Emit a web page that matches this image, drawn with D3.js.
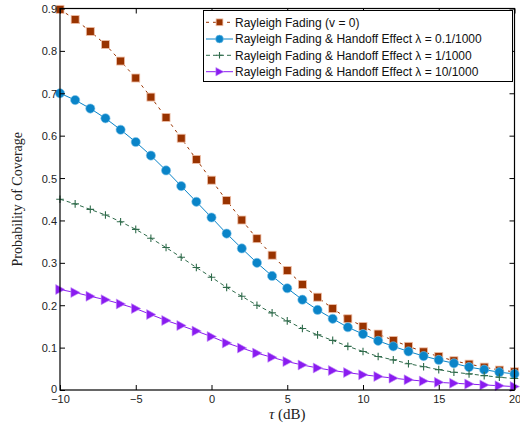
<!DOCTYPE html>
<html>
<head>
<meta charset="utf-8">
<script src="https://cdn.jsdelivr.net/npm/d3@7/dist/d3.min.js"></script>
<style>
html,body{margin:0;padding:0;background:#fff;}
svg{display:block;}
</style>
</head>
<body>
<svg id="chart" width="520" height="425"></svg>
<script>
const tau = [-10,-9,-8,-7,-6,-5,-4,-3,-2,-1,0,1,2,3,4,5,6,7,8,9,10,11,12,13,14,15,16,17,18,19,20];
const rayleigh = [0.898,0.874,0.846,0.815,0.776,0.736,0.691,0.643,0.594,0.544,0.495,0.447,0.401,0.357,0.318,0.282,0.249,0.219,0.192,0.168,0.150,0.132,0.117,0.103,0.090,0.079,0.069,0.061,0.054,0.047,0.043];
const handoff01 = [0.700,0.684,0.664,0.641,0.614,0.585,0.553,0.518,0.481,0.444,0.407,0.369,0.334,0.300,0.269,0.240,0.213,0.189,0.168,0.148,0.132,0.116,0.103,0.091,0.080,0.071,0.063,0.054,0.048,0.042,0.038];
const handoff1 = [0.450,0.439,0.426,0.413,0.397,0.379,0.358,0.336,0.313,0.289,0.266,0.242,0.221,0.200,0.182,0.163,0.145,0.130,0.117,0.103,0.091,0.079,0.071,0.062,0.055,0.048,0.042,0.038,0.034,0.030,0.027];
const handoff10 = [0.237,0.230,0.221,0.213,0.203,0.192,0.178,0.164,0.152,0.139,0.126,0.111,0.099,0.087,0.077,0.067,0.059,0.052,0.046,0.041,0.036,0.032,0.028,0.024,0.021,0.018,0.016,0.014,0.012,0.010,0.008];
const seriesNames = ["Rayleigh Fading (v = 0)","Rayleigh Fading & Handoff Effect λ = 0.1/1000","Rayleigh Fading & Handoff Effect λ = 1/1000","Rayleigh Fading & Handoff Effect λ = 10/1000"];
const xTicks = [-10,-5,0,5,10,15,20];
const yTicks = [0,0.1,0.2,0.3,0.4,0.5,0.6,0.7,0.8,0.9];

const series = [
  {name:seriesNames[0], values:rayleigh, color:"#993300", dash:"3,4", marker:"square", edge:"#f0c0a8"},
  {name:seriesNames[1], values:handoff01, color:"#0a84c8", dash:null, marker:"circle", edge:"#80c4ea"},
  {name:seriesNames[2], values:handoff1, color:"#2f6b4b", dash:"4,3", marker:"plus", edge:null},
  {name:seriesNames[3], values:handoff10, color:"#8a1cf0", dash:null, marker:"triangle", edge:"#c490f8"}
];

const svg = d3.select("#chart");
const L=60, R=514.5, T=8.5, B=390;
const x = d3.scaleLinear().domain([-10,20]).range([L,R]);
const y = d3.scaleLinear().domain([0,0.9]).range([B,T]);

function drawMarker(g, type, cx, cy, s, color, edge){
  if(type==="square"){
    g.append("rect").attr("x",cx-s*4).attr("y",cy-s*4).attr("width",s*8).attr("height",s*8)
     .attr("fill",color).attr("stroke",edge).attr("stroke-width",0.8);
  } else if(type==="circle"){
    g.append("circle").attr("cx",cx).attr("cy",cy).attr("r",s*4.6)
     .attr("fill",color).attr("stroke",edge).attr("stroke-width",0.6);
  } else if(type==="plus"){
    g.append("path").attr("d",`M${cx-s*3.8},${cy}H${cx+s*3.8}M${cx},${cy-s*3.8}V${cy+s*3.8}`)
     .attr("stroke",color).attr("stroke-width",1.1).attr("fill","none");
  } else if(type==="triangle"){
    g.append("path").attr("d",`M${cx-s*4.3},${cy-s*5}L${cx+s*5},${cy}L${cx-s*4.3},${cy+s*5}Z`)
     .attr("fill",color).attr("stroke",edge).attr("stroke-width",0.6);
  }
}

const line = d3.line().x((d,i)=>x(tau[i])).y(d=>y(d));
const plot = svg.append("g");
series.forEach(s=>{
  const p = plot.append("path").datum(s.values).attr("d",line)
    .attr("fill","none").attr("stroke",s.color).attr("stroke-width",1);
  if(s.dash) p.attr("stroke-dasharray",s.dash);
  const mg = plot.append("g");
  s.values.forEach((v,i)=>drawMarker(mg,s.marker,x(tau[i]),y(v),1,s.color,s.edge));
});

const axisG = svg.append("g");
axisG.append("rect").attr("x",L).attr("y",T).attr("width",R-L).attr("height",B-T)
  .attr("fill","none").attr("stroke","#000").attr("stroke-width",1.2);

const xAxis = d3.axisBottom(x).tickValues(xTicks).tickSizeInner(-5).tickSizeOuter(0).tickPadding(5.5)
  .tickFormat(d=>d<0?"\u2212"+Math.abs(d):d);
const gx = axisG.append("g").attr("transform",`translate(0,${B})`).call(xAxis);
const xTop = d3.axisTop(x).tickValues(xTicks).tickSizeInner(-5).tickSizeOuter(0).tickFormat("");
const gxt = axisG.append("g").attr("transform",`translate(0,${T})`).call(xTop);
const yAxis = d3.axisLeft(y).tickValues(yTicks).tickSizeInner(-5).tickSizeOuter(0).tickPadding(3)
  .tickFormat(d=>d===0?"0":d3.format(".1f")(d));
const gy = axisG.append("g").attr("transform",`translate(${L},0)`).call(yAxis);
const yRight = d3.axisRight(y).tickValues(yTicks).tickSizeInner(-5).tickSizeOuter(0).tickFormat("");
const gyr = axisG.append("g").attr("transform",`translate(${R},0)`).call(yRight);
[gx,gxt,gy,gyr].forEach(g=>{
  g.select(".domain").remove();
  g.selectAll("line").attr("stroke","#000").attr("stroke-width",1);
  g.selectAll("text").attr("font-family","Liberation Sans, Arial, sans-serif").attr("font-size",11).attr("fill","#222");
});
gy.selectAll("text").attr("dy",d=>d===0?"0.2em":"0.36em");

svg.append("text").attr("x",(L+R)/2).attr("y",418.5).attr("text-anchor","middle")
  .attr("font-family","Liberation Serif, Times New Roman, serif").attr("font-size",15).attr("fill","#222")
  .html('<tspan font-style="italic">τ</tspan> (dB)');
svg.append("text").attr("transform",`translate(22,${(T+B)/2}) rotate(-90)`).attr("text-anchor","middle")
  .attr("font-family","Liberation Serif, Times New Roman, serif").attr("font-size",14).attr("fill","#222")
  .text("Probability of Coverage");

const lg = svg.append("g");
lg.append("rect").attr("x",203.5).attr("y",10.5).attr("width",309).attr("height",71)
  .attr("fill","#fff").attr("stroke","#000").attr("stroke-width",1);
const rowY = [22.3,39,55.3,71.7];
series.forEach((s,i)=>{
  const yy = rowY[i];
  const l = lg.append("line").attr("x1",206).attr("x2",233).attr("y1",yy).attr("y2",yy)
    .attr("stroke",s.color).attr("stroke-width",1);
  if(s.dash) l.attr("stroke-dasharray",s.dash);
  drawMarker(lg,s.marker,219.5,yy,0.85,s.color,s.edge);
  lg.append("text").attr("x",235).attr("y",yy+4.2)
    .attr("font-family","Liberation Sans, Arial, sans-serif").attr("font-size",12).attr("fill","#111")
    .text(s.name);
});
</script>
</body>
</html>
